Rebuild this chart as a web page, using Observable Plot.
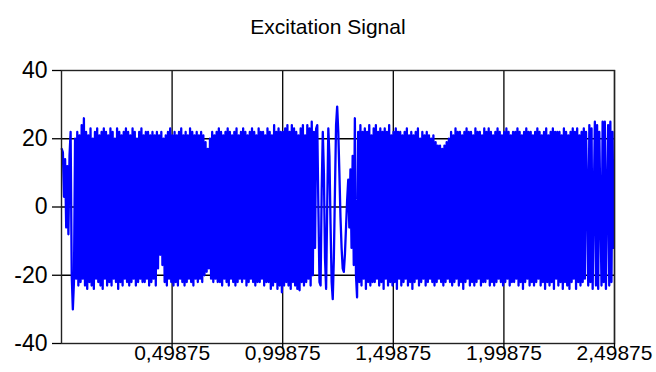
<!DOCTYPE html>
<html>
<head>
<meta charset="utf-8">
<script src="https://cdn.jsdelivr.net/npm/d3@7"></script>
<script src="https://cdn.jsdelivr.net/npm/@observablehq/plot@0.6"></script>
<style>
  html, body { margin: 0; padding: 0; background: #fff; }
  #title { width: 656px; height: 45px; box-sizing: border-box; padding-top: 16px;
           text-align: center; font-family: "Liberation Sans", Arial, sans-serif;
           font-size: 21px; line-height: 21px; color: #000; }
</style>
</head>
<body>
<div id="title">Excitation Signal</div>
<div id="chart"></div>
<script>
// Sample spacing of the excitation signal (seconds)
const sampleStep = 0.005;

// Signal samples
const startSegment = [17, 16, 3, 14, -6, 12, -8, 15, 22, -20, -30, -22, 20, -21, 22, -23, 21, -22, 24, -21, 26, -23];

const denseLeft = [
  22, -24, 21, -22, 23, -23, 20, -24, 22, -21, 23, -22, 21, -23, 22, -24, 23, -21, 22, -23,
  21, -22, 23, -23, 22, -21, 20, -22, 23, -24, 22, -22, 21, -23, 22, -21, 23, -22, 22, -23,
  21, -22, 23, -21, 22, -23, 20, -22, 22, -21, 23, -22, 21, -22, 22, -21, 22, -23, 21, -22,
  22, -21, 21, -23, 22, -18, 21, -14, 22, -17, 20, -22, 21, -23, 22, -21, 23, -22, 21, -23,
  22, -22, 21, -23, 22, -21, 23, -22, 21, -23, 22, -22, 21, -21, 23, -22, 22, -23, 21, -21,
  22, -22, 21, -21, 22, -22, 21, -20, 19, -19, 17, -18, 20, -21, 22, -22, 21, -21, 22, -22,
  23, -22, 22, -23, 21, -21, 22, -22, 23, -23, 22, -21, 21, -22, 22, -23, 23, -22, 21, -21,
  22, -22, 23, -21, 22, -23, 21, -22, 22, -21, 23, -22, 22, -23, 21, -22, 23, -22, 22, -21,
  22, -23, 21, -22, 23, -22, 22, -24, 21, -23, 24, -22, 22, -24, 23, -23, 22, -25
];

const centerSegment = [
  22, -23, 23, -22, 24, -23, 22, -24, 24, -22, 23, -23, 22, -24, 21, -24.4, 23, -22, 24, -23,
  21, -22, 24, -21, 23, -23, 25, -20, 22, -12,
  23, 24, 0, -22, -23, 5, 22, 10, -15, -24, 0, 23, 15, -5, -22,
  -27, -15, 5, 24, 29.4, 22, 10, -3, -12, -18, -19, -14, -6, 2, 8,
  -6, 11, -12, 15, -17, 26, -20, -26.5, 22
];

const denseRight = [
  -22, 24, -23, 22, -21, 23, -24, 22, -22, 24, -23, 21, -22, 23, -22, 24, -21, 22, -23, 23,
  -22, 22, -24, 23, -21, 22, -23, 24, -22, 21, -23, 22, -22, 23, -24, 22, -21, 22, -23, 21,
  -22, 22, -21, 23, -23, 21, -22, 22, -24, 21, -22, 22, -21, 23, -23, 20, -22, 22, -21, 21,
  -23, 22, -22, 21, -21, 20, -22, 21, -23, 19, -22, 18, -21, 18, -22, 17, -23, 18, -22, 19,
  -21, 20, -22, 22, -23, 21, -22, 23, -21, 22, -23, 22, -22, 21, -24, 22, -22, 23, -21, 22,
  -23, 22, -22, 21, -23, 23, -22, 22, -21, 22, -23, 21, -22, 23, -22, 22, -21, 23, -23, 22,
  -22, 21, -23, 22, -22, 23, -21, 22, -22, 21, -23, 22, -22, 23, -21, 22, -23, 21, -22, 22,
  -22, 22, -21, 23, -23, 22, -22, 21, -24, 22, -22, 23, -21, 22, -23, 22, -22, 21, -23, 22,
  -22, 23, -21, 22, -23, 21, -22, 22, -24, 23, -22, 21, -23, 22, -22, 23, -24, 22, -21, 22,
  -23, 22, -22, 21, -24, 23, -22, 22, -23, 21, -24, 22, -22, 23, -21, 22, -24, 23, -22, 21, -23
];

const endSegment = [
  22, -22, 23, -21, 22, 5, -23, 24, -22, 23,
  -24, 2, 25, -23, 24, -24, 22, 0, -23, 25,
  -22, 25, -24, 3, 24, -23, 25, -22, 22, -12
];

// Axis ticks
const xTicks = [0.49875, 0.99875, 1.49875, 1.99875, 2.49875];
const yTicks = [-40, -20, 0, 20, 40];
const yGrid = [-20, 0, 20];

const signal = [...startSegment, ...denseLeft, ...centerSegment, ...denseRight, ...endSegment];
const data = signal.map((v, i) => ({t: i * sampleStep, v}));

const chart = Plot.plot({
  width: 656,
  height: 327,
  marginTop: 25,
  marginBottom: 29,
  marginLeft: 61,
  marginRight: 42,
  style: {fontFamily: "'Liberation Sans', Arial, sans-serif", fontSize: "21px", color: "#000", background: "#fff"},
  x: {domain: [-0.00125, 2.49875], label: null},
  y: {domain: [-40, 40], label: null},
  marks: [
    Plot.gridX(xTicks, {stroke: "#000", strokeOpacity: 1, strokeWidth: 1.3}),
    Plot.gridY(yGrid, {stroke: "#000", strokeOpacity: 1, strokeWidth: 1.3}),
    Plot.line(data, {x: "t", y: "v", stroke: "#0000ff", strokeWidth: 2.3}),
    Plot.frame({stroke: "#222", strokeWidth: 1.4}),
    Plot.axisX(xTicks, {tickSize: 6, tickPadding: -4, fontSize: 21, strokeWidth: 1.3, label: null,
      tickFormat: d => d.toFixed(5).replace(".", ",")}),
    Plot.axisY(yTicks, {tickSize: 9, tickPadding: 5, fontSize: 23, strokeWidth: 1.3, label: null,
      tickFormat: d => String(d)})
  ]
});
document.getElementById("chart").appendChild(chart);
</script>
</body>
</html>
